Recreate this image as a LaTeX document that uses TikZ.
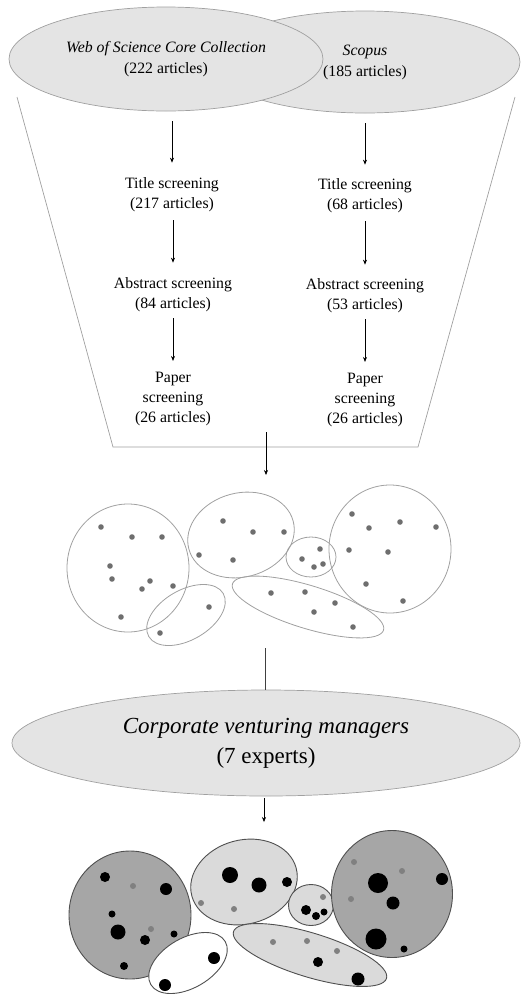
\documentclass[tikz,border=0pt]{standalone}
\usepackage{fontspec}
\setmainfont{Liberation Serif}
\usetikzlibrary{shapes.geometric,arrows.meta}
\definecolor{ellfill}{HTML}{E4E4E4}
\definecolor{ellline}{HTML}{A0A0A0}
\definecolor{dotA}{HTML}{6E6E6E}
\definecolor{darkfill}{HTML}{A6A6A6}
\definecolor{lightfill}{HTML}{DADADA}
\definecolor{outlineB}{HTML}{505050}
\definecolor{dotgray}{HTML}{808080}
\begin{document}
\begin{tikzpicture}[x=1pt,y=-1pt,
  dbase/.style={ellipse, draw=ellline, fill=ellfill, line width=0.7pt, inner sep=0pt, align=center},
  lbl/.style={align=center, inner sep=0pt, font=\fontsize{15.8}{20}\selectfont},
  arr/.style={-{Stealth[length=5pt,width=4pt]}, line width=0.6pt},
  clA/.style={draw=ellline, line width=0.8pt},
  clB/.style={draw=outlineB, line width=0.9pt},
  funnel/.style={draw=ellline, line width=0.7pt}
]
\useasboundingbox (0,0) rectangle (522,1005);

% funnel
\draw[funnel] (17,97) -- (113,447) -- (418,447) -- (515,97);

% databases
\node[dbase, minimum width=310pt, minimum height=102pt, font=\fontsize{15.8}{21}\selectfont] (scopus) at (365,62) {\itshape Scopus\\(185 articles)};
\node[dbase, minimum width=314pt, minimum height=104pt, font=\fontsize{15.8}{21}\selectfont] (wos) at (166,59) {\itshape Web of Science Core Collection\\(222 articles)};

% screening steps
\node[lbl] (t1) at (172,195) {Title screening\\(217 articles)};
\node[lbl] (a1) at (173,295) {Abstract screening\\(84 articles)};
\node[lbl] (p1) at (173,399) {Paper\\screening\\(26 articles)};
\node[lbl] (t2) at (365,196) {Title screening\\(68 articles)};
\node[lbl] (a2) at (365,296) {Abstract screening\\(53 articles)};
\node[lbl] (p2) at (365,400) {Paper\\screening\\(26 articles)};

\draw[arr, shorten <=10pt, shorten >=15pt] (wos.south -| t1.north) -- (t1.north);
\draw[arr, shorten <=8pt, shorten >=15pt] (t1.south -| a1.north) -- (a1.north);
\draw[arr, shorten <=6pt, shorten >=11pt] (a1.south) -- (p1.north);
\draw[arr, shorten <=10pt, shorten >=14pt] (scopus.south -| t2.north) -- (t2.north);
\draw[arr, shorten <=8pt, shorten >=14pt] (t2.south) -- (a2.north);
\draw[arr, shorten <=6pt, shorten >=11pt] (a2.south) -- (p2.north);

\coordinate (f1) at (266,432);
\coordinate (f2) at (266,475);
\draw[arr] (f1) -- (f2);

% first cluster map
\draw[clA] (128,568) ellipse [x radius=61pt, y radius=64pt];
\draw[clA, rotate around={30:(186,615)}] (186,615) ellipse [x radius=43pt, y radius=25pt];
\draw[clA, rotate around={15:(241,535)}] (241,535) ellipse [x radius=54pt, y radius=42pt];
\draw[clA] (311,557) ellipse [x radius=25pt, y radius=20pt];
\draw[clA] (390,549) ellipse [x radius=61pt, y radius=64pt];
\draw[clA, rotate around={-17:(308,607)}] (308,607) ellipse [x radius=79pt, y radius=21.5pt];
\foreach \x/\y in {101/527,132/537,162/537,110/566,112/579,150/581,142/589,173/586,121/617,
  209/607,160/633,
  223/521,253/532,284/532,199/555,233/560,
  320/549,302/559,323/564,314/567,
  352/514,369/528,400/522,436/527,349/550,388/552,366/584,403/601,
  271/593,305/592,335/603,314/612,353/627}
  \fill[dotA] (\x,\y) circle[radius=2.8pt];

% experts
\coordinate (m1) at (265,648);
\node[dbase, minimum width=508pt, minimum height=106pt, font=\fontsize{23}{30}\selectfont] (cvm) at (266,743) {\itshape Corporate venturing managers\\(7 experts)};
\draw[line width=0.6pt, black!75] (m1) -- (m1 |- cvm.north);
\coordinate (m2) at (264,822);
\draw[arr, shorten <=2pt] (cvm.south -| m2) -- (m2);

% second cluster map
\draw[clB, fill=darkfill] (130,915) ellipse [x radius=61pt, y radius=64pt];
\draw[clB, fill=white, rotate around={30:(188,963)}] (188,963) ellipse [x radius=43pt, y radius=25pt];
\draw[clB, fill=lightfill, rotate around={15:(244,882)}] (244,882) ellipse [x radius=54pt, y radius=42pt];
\draw[clB, fill=lightfill] (311,905) ellipse [x radius=22.5pt, y radius=20.5pt];
\draw[clB, fill=darkfill] (392,894) ellipse [x radius=60.5pt, y radius=63.5pt];
\draw[clB, fill=lightfill, rotate around={-17:(310,955)}] (310,955) ellipse [x radius=80pt, y radius=22pt];
\foreach \x/\y/\r in {105/877/5,166/889/6,112/914/3.5,118/932/7.5,145/940/5,174/934/3.5,124/966/4,
  214/958/6,165/985/6,
  230/875/8,259/885/7.5,287/882/5,
  306/910/5,316/916/4,324/912/3.5,
  378/883/10,442/879/6,393/903/6.5,376/939/10.5,404/949/3.5,
  318/962/5,358/979/6.5}
  \fill[black] (\x,\y) circle[radius=\r pt];
\foreach \x/\y in {133/886,151/929,201/903,234/909,323/897,354/862,402/871,351/899,273/942,307/941,337/951}
  \fill[dotgray] (\x,\y) circle[radius=3pt];
\end{tikzpicture}
\end{document}
